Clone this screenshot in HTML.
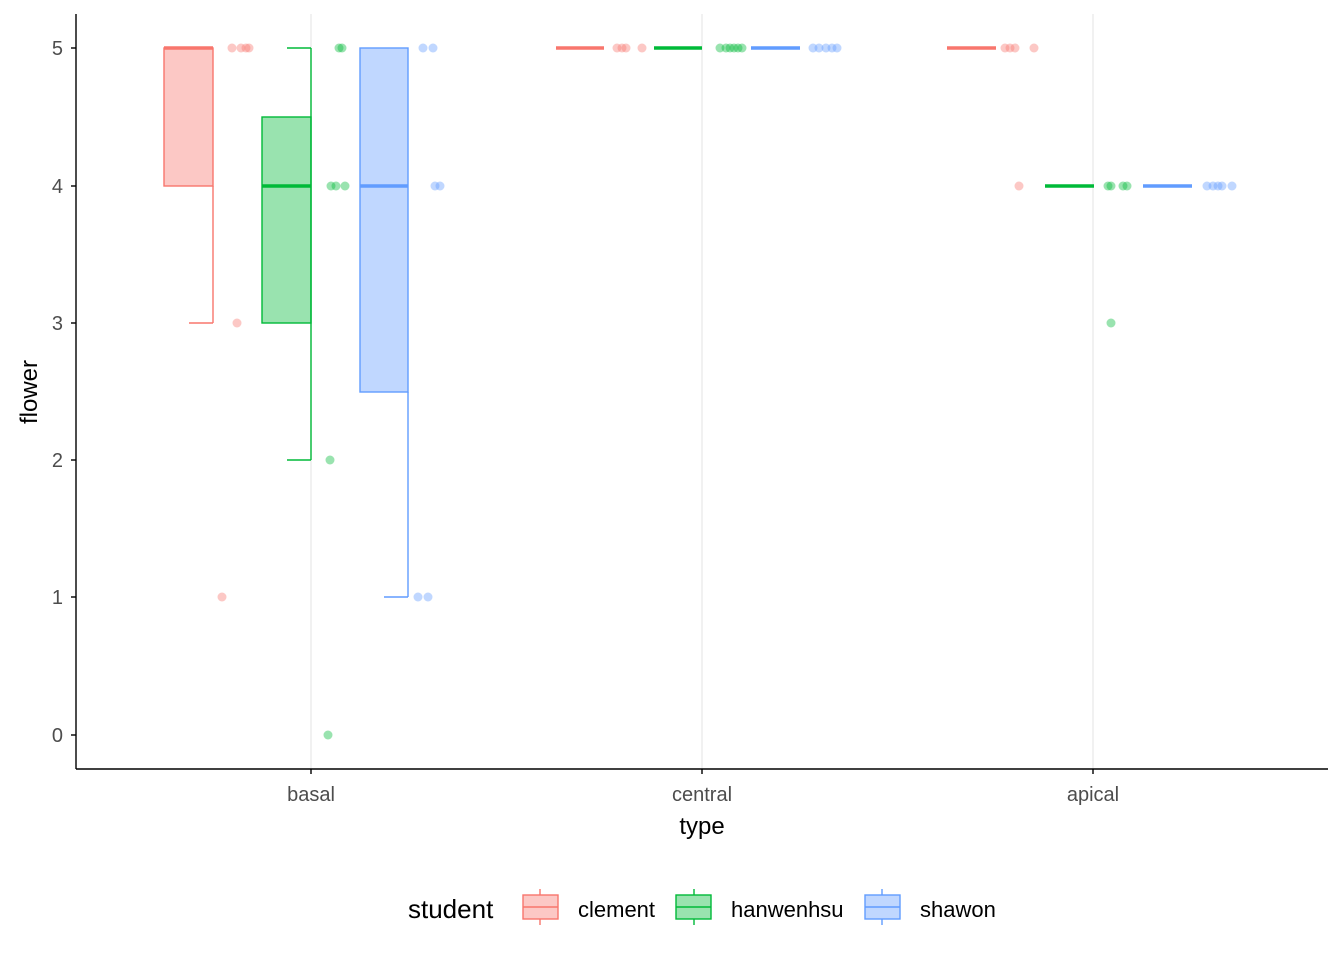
<!DOCTYPE html><html><head><style>body{margin:0;background:#fff}text{font-family:"Liberation Sans",sans-serif}</style></head><body>
<svg width="1344" height="960" xmlns="http://www.w3.org/2000/svg">
<g stroke="#ebebeb" stroke-width="1.4"><line x1="311" y1="14" x2="311" y2="769"/><line x1="702" y1="14" x2="702" y2="769"/><line x1="1093" y1="14" x2="1093" y2="769"/></g>
<g stroke="#F8766D" stroke-width="1.4" fill="none">
<rect x="164" y="48" width="49" height="138" fill="#F8766D" fill-opacity="0.4"/>
<line x1="213" y1="186" x2="213" y2="323"/><line x1="189" y1="323" x2="213" y2="323"/>
<line x1="164" y1="48" x2="213" y2="48" stroke-width="3.5"/>
<line x1="556" y1="48" x2="604" y2="48" stroke-width="3.5"/>
<line x1="947" y1="48" x2="996" y2="48" stroke-width="3.5"/>
</g>
<g stroke="#00BA38" stroke-width="1.4" fill="none">
<rect x="262" y="117" width="49" height="206" fill="#00BA38" fill-opacity="0.4"/>
<line x1="311" y1="48" x2="311" y2="460"/><line x1="287" y1="48" x2="311" y2="48"/><line x1="287" y1="460" x2="311" y2="460"/>
<line x1="262" y1="186" x2="311" y2="186" stroke-width="3.5"/>
<line x1="654" y1="48" x2="702" y2="48" stroke-width="3.5"/>
<line x1="1045" y1="186" x2="1094" y2="186" stroke-width="3.5"/>
</g>
<g stroke="#619CFF" stroke-width="1.4" fill="none">
<rect x="360" y="48" width="48" height="344" fill="#619CFF" fill-opacity="0.4"/>
<line x1="408" y1="392" x2="408" y2="597"/><line x1="384" y1="597" x2="408" y2="597"/>
<line x1="360" y1="186" x2="408" y2="186" stroke-width="3.5"/>
<line x1="751" y1="48" x2="800" y2="48" stroke-width="3.5"/>
<line x1="1143" y1="186" x2="1192" y2="186" stroke-width="3.5"/>
</g>
<g fill="#F8766D" fill-opacity="0.4">
<circle cx="232" cy="48" r="4.5"/><circle cx="241" cy="48" r="4.5"/><circle cx="246" cy="48" r="4.5"/><circle cx="249" cy="48" r="4.5"/><circle cx="237" cy="323" r="4.5"/><circle cx="222" cy="597" r="4.5"/>
<circle cx="617" cy="48" r="4.5"/><circle cx="622" cy="48" r="4.5"/><circle cx="626" cy="48" r="4.5"/><circle cx="642" cy="48" r="4.5"/>
<circle cx="1005" cy="48" r="4.5"/><circle cx="1010" cy="48" r="4.5"/><circle cx="1015" cy="48" r="4.5"/><circle cx="1034" cy="48" r="4.5"/><circle cx="1019" cy="186" r="4.5"/>
</g>
<g fill="#00BA38" fill-opacity="0.4">
<circle cx="339" cy="48" r="4.5"/><circle cx="342" cy="48" r="4.5"/><circle cx="331" cy="186" r="4.5"/><circle cx="336" cy="186" r="4.5"/><circle cx="345" cy="186" r="4.5"/><circle cx="330" cy="460" r="4.5"/><circle cx="328" cy="735" r="4.5"/>
<circle cx="720" cy="48" r="4.5"/><circle cx="726" cy="48" r="4.5"/><circle cx="730" cy="48" r="4.5"/><circle cx="734" cy="48" r="4.5"/><circle cx="738" cy="48" r="4.5"/><circle cx="742" cy="48" r="4.5"/>
<circle cx="1108" cy="186" r="4.5"/><circle cx="1111" cy="186" r="4.5"/><circle cx="1123" cy="186" r="4.5"/><circle cx="1127" cy="186" r="4.5"/><circle cx="1111" cy="323" r="4.5"/>
</g>
<g fill="#619CFF" fill-opacity="0.4">
<circle cx="423" cy="48" r="4.5"/><circle cx="433" cy="48" r="4.5"/><circle cx="435" cy="186" r="4.5"/><circle cx="440" cy="186" r="4.5"/><circle cx="418" cy="597" r="4.5"/><circle cx="428" cy="597" r="4.5"/>
<circle cx="813" cy="48" r="4.5"/><circle cx="819" cy="48" r="4.5"/><circle cx="826" cy="48" r="4.5"/><circle cx="832" cy="48" r="4.5"/><circle cx="837" cy="48" r="4.5"/>
<circle cx="1207" cy="186" r="4.5"/><circle cx="1213" cy="186" r="4.5"/><circle cx="1218" cy="186" r="4.5"/><circle cx="1222" cy="186" r="4.5"/><circle cx="1232" cy="186" r="4.5"/>
</g>
<g stroke="#000" stroke-width="1.4"><line x1="76" y1="14" x2="76" y2="769"/><line x1="76" y1="769" x2="1328" y2="769"/>
<line x1="71" y1="48" x2="76" y2="48"/><line x1="71" y1="186" x2="76" y2="186"/><line x1="71" y1="323" x2="76" y2="323"/><line x1="71" y1="460" x2="76" y2="460"/><line x1="71" y1="597" x2="76" y2="597"/><line x1="71" y1="735" x2="76" y2="735"/>
<line x1="311" y1="769" x2="311" y2="774"/><line x1="702" y1="769" x2="702" y2="774"/><line x1="1093" y1="769" x2="1093" y2="774"/></g>
<g font-size="20" fill="#4d4d4d" text-anchor="end"><text x="63" y="55">5</text><text x="63" y="193">4</text><text x="63" y="330">3</text><text x="63" y="467">2</text><text x="63" y="604">1</text><text x="63" y="742">0</text></g>
<g font-size="20" fill="#4d4d4d" text-anchor="middle"><text x="311" y="801">basal</text><text x="702" y="801">central</text><text x="1093" y="801">apical</text></g>
<text x="702" y="834" font-size="24" text-anchor="middle">type</text>
<text transform="translate(37,392) rotate(-90)" font-size="24" text-anchor="middle">flower</text>
<text x="408" y="918" font-size="26">student</text>
<g stroke-width="1.4">
<g stroke="#F8766D"><line x1="540" y1="889" x2="540" y2="895"/><line x1="540" y1="919" x2="540" y2="925"/><rect x="523" y="895" width="35" height="24" fill="#F8766D" fill-opacity="0.4"/><line x1="523" y1="907" x2="558" y2="907"/></g>
<g stroke="#00BA38"><line x1="694" y1="889" x2="694" y2="895"/><line x1="694" y1="919" x2="694" y2="925"/><rect x="676" y="895" width="35" height="24" fill="#00BA38" fill-opacity="0.4"/><line x1="676" y1="907" x2="711" y2="907"/></g>
<g stroke="#619CFF"><line x1="882" y1="889" x2="882" y2="895"/><line x1="882" y1="919" x2="882" y2="925"/><rect x="865" y="895" width="35" height="24" fill="#619CFF" fill-opacity="0.4"/><line x1="865" y1="907" x2="900" y2="907"/></g>
</g>
<g font-size="22"><text x="578" y="917">clement</text><text x="731" y="917">hanwenhsu</text><text x="920" y="917">shawon</text></g>
</svg></body></html>
